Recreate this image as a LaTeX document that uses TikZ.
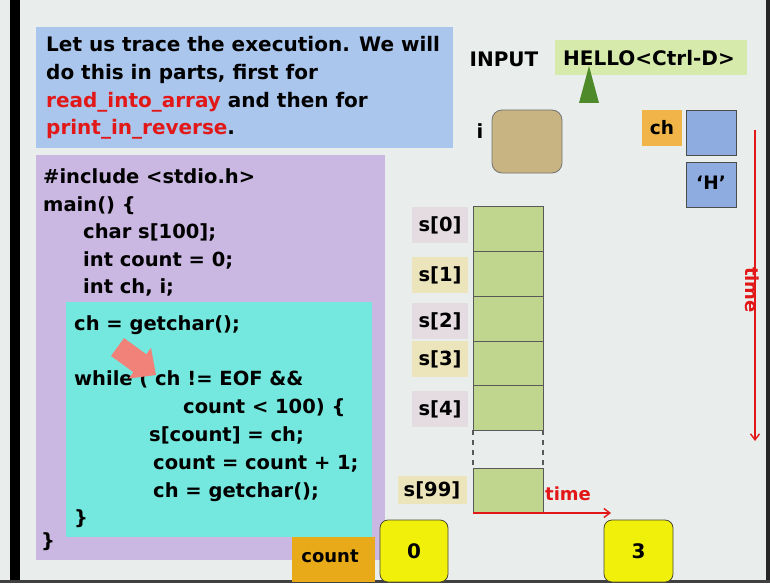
\documentclass[tikz,border=0pt]{standalone}
\usepackage{fontspec}
\setmainfont{DejaVu Sans}
\usetikzlibrary{arrows.meta}

\definecolor{bg}{RGB}{233,238,236}
\definecolor{introblue}{RGB}{170,198,236}
\definecolor{codelilac}{RGB}{202,184,226}
\definecolor{loopcyan}{RGB}{116,232,222}
\definecolor{cntorange}{RGB}{232,170,24}
\definecolor{chorange}{RGB}{240,180,72}
\definecolor{valyellow}{RGB}{240,240,10}
\definecolor{cellgreen}{RGB}{192,214,142}
\definecolor{tagpink}{RGB}{228,220,224}
\definecolor{tagsand}{RGB}{236,228,186}
\definecolor{inputgreen}{RGB}{214,234,172}
\definecolor{ptrgreen}{RGB}{78,138,42}
\definecolor{itan}{RGB}{200,180,130}
\definecolor{chblue}{RGB}{142,172,224}
\definecolor{timered}{RGB}{226,24,24}
\definecolor{hintpink}{RGB}{240,130,122}

\newcommand\fsz[1]{\fontsize{#1}{#1}\selectfont\bfseries}

\begin{document}
\begin{tikzpicture}[x=1pt,y=-1pt,
  panel/.style={draw=none,inner sep=0pt,outer sep=0pt,anchor=north west},
  txt/.style={inner sep=0pt,anchor=base west,font=\fsz{19.5}},
  cell/.style={panel,fill=cellgreen,draw=black!65,line width=0.8pt,minimum width=70,minimum height=45},
  tag/.style={inner sep=0pt,outer sep=0pt,minimum height=36,font=\fsz{19.5}},
  valbox/.style={panel,fill=valyellow,draw=black!60!olive,line width=0.8pt,rounded corners=8pt},
  timearrow/.style={draw=timered,line width=1.4pt,-{Straight Barb[length=6pt,width=9pt]}},
  timelabel/.style={inner sep=0pt,text=timered,font=\fsz{18}}]

\useasboundingbox (0,0) rectangle (770,583);
% slide background and edges
\fill[bg] (0,0) rectangle (770,583);
\fill[black] (10,0) rectangle (20,583);
\fill[black!85] (766,0) rectangle (770,583);
\fill[black!75] (0,580) rectangle (770,583);

% introduction panel
\node[panel,fill=introblue,minimum width=417,minimum height=121] (intro) at (36,27) {};
\node[txt,font=\fsz{20}] (l1) at (46,52) {Let us trace the execution. We will};
\node[txt,font=\fsz{20}] (l2) at (46,80) {do this in parts, first for};
\node[txt,font=\fsz{20}] (l3) at (46,108) {\textcolor{timered}{read\_into\_array} and then for};
\node[txt,font=\fsz{20}] (l4) at (46,135) {\textcolor{timered}{print\_in\_reverse}.};

% program panel
\node[panel,fill=codelilac,minimum width=349,minimum height=405] (prog) at (36,155) {};
\node[panel,fill=loopcyan,minimum width=306,minimum height=235] (loop) at (66,302) {};

\node[txt] (c1) at (43,183) {\#include <stdio.h>};
\node[txt] (c2) at (43,211) {main() \{};
\node[txt] (c3) at (83,238) {char s[100];};
\node[txt] (c4) at (83,266) {int count = 0;};
\node[txt] (c5) at (83,293) {int ch, i;};
\node[txt] (c6) at (74,330) {ch = getchar();};
\node[txt] (c7) at (74,385) {while ( ch != EOF \&\&};
\node[txt] (c8) at (183,413) {count < 100) \{};
\node[txt] (c9) at (149,441) {s[count] = ch;};
\node[txt] (c10) at (153,469) {count = count + 1;};
\node[txt] (c11) at (153,497) {ch = getchar();};
\node[txt] (c12) at (74,524) {\}};
\node[txt] (c13) at (41,547) {\}};

% pointer at the current statement
\fill[hintpink] (111.0,355.9) -- (124.0,338.1) -- (146.3,354.3) -- (151.0,347.8)
  -- (156,375) -- (128.6,378.6) -- (133.3,372.1) -- cycle;

% variable count
\node[panel,fill=cntorange,minimum width=83,minimum height=45] (cntlab) at (292,537) {};
\node[inner sep=0pt,font=\fsz{18}] (cnttxt) at (330,556) {count};
\node[valbox,minimum width=68,minimum height=62] (v0) at (380,520) {};
\node[inner sep=0pt,font=\fsz{20}] at (v0.center) {0};
\node[valbox,minimum width=69,minimum height=62] (v3) at (604,520) {};
\node[inner sep=0pt,font=\fsz{20}] at (v3.center) {3};

% input stream
\node[inner sep=0pt,font=\fsz{20}] (inlab) at (504,59) {INPUT};
\node[panel,fill=inputgreen,minimum width=192,minimum height=35] (inbox) at (555,40) {};
\node[txt,font=\fsz{20}] (intxt) at (563,66) {HELLO<Ctrl-D>};
\fill[ptrgreen] (579,103) -- (589,66) -- (599,103) -- cycle;

% variable i
\node[inner sep=0pt,font=\fsz{19.5}] (ilab) at (480,131) {i};
\node[panel,fill=itan,draw=black!55,line width=0.8pt,rounded corners=10pt,
  minimum width=70,minimum height=63] (ibox) at (492,110) {};

% variable ch
\node[panel,fill=chorange,minimum width=40,minimum height=36] (chlab) at (642,110) {};
\node[inner sep=0pt,font=\fsz{18.5}] at (chlab.center) {ch};
\node[panel,fill=chblue,draw=black!70,line width=0.8pt,minimum width=50,minimum height=45] (chbox) at (686,110) {};
\node[panel,fill=chblue,draw=black!70,line width=0.8pt,minimum width=50,minimum height=45] (chval) at (686,162) {};
\node[inner sep=0pt,font=\fsz{18.5}] at ([yshift=2pt]chval.center) {`H'};

% array s
\node[cell] (s0) at (473,206) {};
\node[cell] (s1) at (473,251) {};
\node[cell] (s2) at (473,296) {};
\node[cell] (s3) at (473,341) {};
\node[cell] (s4) at (473,385) {};
\node[cell] (s99) at (473,468) {};
\draw[black!65,line width=1.4pt,dash pattern=on 5pt off 5pt] (s4.south west) -- (s99.north west);
\draw[black!65,line width=1.4pt,dash pattern=on 5pt off 5pt] (s4.south east) -- (s99.north east);

\node[tag,fill=tagpink,minimum width=56] (t0) at (440,225) {s[0]};
\node[tag,fill=tagsand,minimum width=56] (t1) at (440,275) {s[1]};
\node[tag,fill=tagpink,minimum width=56] (t2) at (440,321) {s[2]};
\node[tag,fill=tagsand,minimum width=56] (t3) at (440,359) {s[3]};
\node[tag,fill=tagpink,minimum width=56] (t4) at (440,409) {s[4]};
\node[tag,fill=tagsand,minimum width=69,minimum height=28] (t99) at (432,490) {s[99]};

% time axes
\coordinate (hEnd) at (611,513);
\draw[timearrow] (s99.south west) -- (hEnd);
\node[timelabel,anchor=base west] (htime) at (545,500) {time};
\coordinate (vTop) at (755,130);
\coordinate (vEnd) at (755,441);
\draw[timearrow] (vTop) -- (vEnd);
\node[timelabel,rotate=-90] (vtime) at (752,290) {time};

\end{tikzpicture}
\end{document}
